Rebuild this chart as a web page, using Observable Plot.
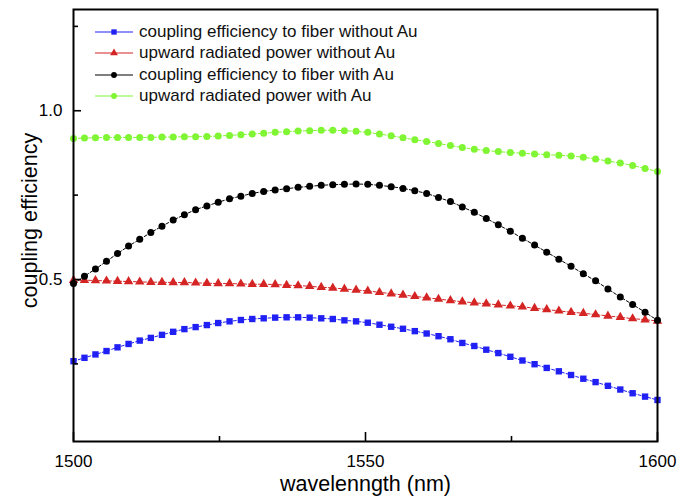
<!DOCTYPE html>
<html><head><meta charset="utf-8">
<script src="https://cdn.jsdelivr.net/npm/d3@7"></script>
<script src="https://cdn.jsdelivr.net/npm/@observablehq/plot@0.6"></script>
<style>
body{margin:0;background:#fff;}
#wrap{position:relative;width:693px;height:503px;font-family:"Liberation Sans",Arial,sans-serif;}
.item{position:absolute;left:95px;height:20px;display:flex;align-items:center;font-size:17px;white-space:nowrap;color:#111}
.item svg{margin-right:6px}
</style></head><body><div id="wrap"></div>
<script>
const wavelength = [1500, 1501.88, 1503.76, 1505.65, 1507.54, 1509.43, 1511.34, 1513.24, 1515.15, 1517.07,
  1518.99, 1520.91, 1522.84, 1524.78, 1526.72, 1528.66, 1530.61, 1532.57, 1534.53, 1536.49,
  1538.46, 1540.44, 1542.42, 1544.40, 1546.39, 1548.39, 1550.39, 1552.39, 1554.40, 1556.42,
  1558.44, 1560.47, 1562.50, 1564.54, 1566.58, 1568.63, 1570.68, 1572.74, 1574.80, 1576.87,
  1578.95, 1581.03, 1583.11, 1585.20, 1587.30, 1589.40, 1591.51, 1593.63, 1595.74, 1597.87, 1600];

const couplingNoAu = [0.258, 0.268, 0.278, 0.288, 0.299, 0.309, 0.319, 0.327, 0.336, 0.345,
  0.353, 0.359, 0.365, 0.371, 0.376, 0.380, 0.383, 0.385, 0.387, 0.388,
  0.388, 0.387, 0.385, 0.383, 0.379, 0.376, 0.372, 0.366, 0.360, 0.354,
  0.347, 0.340, 0.332, 0.323, 0.312, 0.303, 0.292, 0.282, 0.271, 0.260,
  0.249, 0.238, 0.228, 0.217, 0.206, 0.196, 0.185, 0.174, 0.163, 0.153, 0.143];

const upwardNoAu = [0.498, 0.498, 0.497, 0.496, 0.495, 0.494, 0.493, 0.492, 0.492, 0.491,
  0.491, 0.490, 0.489, 0.488, 0.488, 0.487, 0.486, 0.486, 0.485, 0.483,
  0.482, 0.480, 0.477, 0.475, 0.472, 0.469, 0.466, 0.462, 0.458, 0.454,
  0.450, 0.446, 0.442, 0.438, 0.434, 0.431, 0.428, 0.425, 0.422, 0.419,
  0.415, 0.411, 0.407, 0.403, 0.400, 0.396, 0.392, 0.388, 0.384, 0.381, 0.377];

const couplingAu = [0.488, 0.510, 0.531, 0.554, 0.577, 0.599, 0.619, 0.639, 0.658, 0.676,
  0.692, 0.707, 0.718, 0.729, 0.739, 0.747, 0.755, 0.761, 0.765, 0.769,
  0.773, 0.776, 0.779, 0.781, 0.782, 0.783, 0.782, 0.779, 0.775, 0.770,
  0.763, 0.755, 0.743, 0.731, 0.715, 0.699, 0.681, 0.662, 0.643, 0.622,
  0.602, 0.581, 0.560, 0.539, 0.517, 0.496, 0.472, 0.448, 0.426, 0.403, 0.379];

const upwardAu = [0.918, 0.919, 0.920, 0.921, 0.921, 0.921, 0.921, 0.921, 0.922, 0.922,
  0.923, 0.923, 0.924, 0.925, 0.927, 0.929, 0.931, 0.933, 0.936, 0.938,
  0.940, 0.941, 0.942, 0.942, 0.941, 0.939, 0.936, 0.931, 0.926, 0.920,
  0.914, 0.909, 0.903, 0.897, 0.891, 0.886, 0.882, 0.879, 0.876, 0.874,
  0.872, 0.870, 0.868, 0.866, 0.862, 0.857, 0.851, 0.845, 0.838, 0.829, 0.820];

const seriesNames = ["coupling efficiency to fiber without Au", "upward radiated power without Au",
  "coupling efficiency to fiber with Au", "upward radiated power with Au"];
const xMajor = [1500, 1550, 1600];
const xMinor = [1525, 1575];
const yMajor = [0.5, 1.0];
const yMinor = [0.25, 0.75, 1.25];

const series = [
  {name: seriesNames[0], values: couplingNoAu, color: "#2020f4", symbol: "square", r: 3.6},
  {name: seriesNames[1], values: upwardNoAu, color: "#d42424", symbol: "triangle", r: 3.5},
  {name: seriesNames[2], values: couplingAu, color: "#000000", symbol: "circle", r: 3.5},
  {name: seriesNames[3], values: upwardAu, color: "#80f533", symbol: "circle", r: 3.5}
];

const W = 693, H = 503, mL = 73, mR = 36, mT = 9, mB = 62;
const plotH = H - mT - mB, plotW = W - mL - mR;

const marks = [];
for (const s of series) {
  const rows = wavelength.map((x, i) => ({x, y: s.values[i]}));
  marks.push(Plot.line(rows, {x: "x", y: "y", stroke: s.color, strokeWidth: 1, strokeDasharray: "3,2"}));
  marks.push(Plot.dot(rows, {x: "x", y: "y", symbol: s.symbol, r: s.r, fill: s.color, stroke: "none"}));
}

const chart = Plot.plot({
  width: W, height: H, marginLeft: mL, marginRight: mR, marginTop: mT, marginBottom: mB,
  style: {fontFamily: "'Liberation Sans', Arial, sans-serif", background: "white", color: "black"},
  x: {domain: [1500, 1600]},
  y: {domain: [0.02, 1.30]},
  marks: [
    ...marks,
    Plot.axisX(xMajor, {tickSize: 0, tickPadding: 13, fontSize: 17, label: null, tickFormat: d => String(d)}),
    Plot.axisY(yMajor, {tickSize: 0, tickPadding: 11, fontSize: 17, label: null, tickFormat: d3.format(".1f")}),
    Plot.tickX(xMajor, {x: d => d, insetTop: plotH - 9, stroke: "black", strokeWidth: 1.6}),
    Plot.tickX(xMinor, {x: d => d, insetTop: plotH - 5, stroke: "black", strokeWidth: 1.6}),
    Plot.tickY(yMajor, {y: d => d, insetRight: plotW - 8, stroke: "black", strokeWidth: 1.6}),
    Plot.tickY(yMinor, {y: d => d, insetRight: plotW - 5, stroke: "black", strokeWidth: 1.6}),
    Plot.frame({stroke: "black", strokeWidth: 2}),
    Plot.text(["wavelenngth (nm)"], {text: d => d, frameAnchor: "bottom", dy: 49, fontSize: 21.5}),
    Plot.text(["coupling efficiency"], {text: d => d, frameAnchor: "left", textAnchor: "middle", rotate: -90, dx: -43, dy: -5, fontSize: 21.5})
  ]
});

const wrap = document.getElementById("wrap");
wrap.appendChild(chart);

const legendY = [32, 53, 75, 96];
series.forEach((s, i) => {
  const div = document.createElement("div");
  div.className = "item";
  div.style.top = (legendY[i] - 10) + "px";
  const svg = d3.create("svg").attr("width", 38).attr("height", 12);
  svg.append("line").attr("x1", 0).attr("x2", 38).attr("y1", 6).attr("y2", 6)
    .attr("stroke", s.color).attr("stroke-width", 1.2);
  const sym = s.symbol === "square" ? d3.symbolSquare : s.symbol === "triangle" ? d3.symbolTriangle : d3.symbolCircle;
  svg.append("path").attr("d", d3.symbol(sym, Math.PI * s.r * s.r * 0.7)())
    .attr("transform", "translate(19,6)").attr("fill", s.color);
  div.appendChild(svg.node());
  const span = document.createElement("span");
  span.textContent = s.name;
  div.appendChild(span);
  wrap.appendChild(div);
});
</script>
</body></html>
